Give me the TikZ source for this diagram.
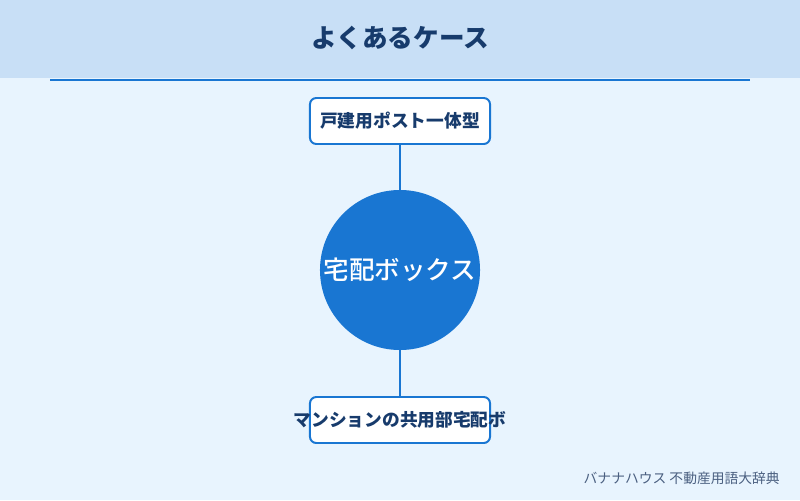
\documentclass[tikz,border=0pt]{standalone}
\usepackage{fontspec}
\setmainfont{Noto Sans CJK JP}
\newfontfamily\medfont{Noto Sans CJK JP Medium}
\usepackage{tikz}
\usetikzlibrary{positioning}

\definecolor{bandblue}{HTML}{C8DFF6}
\definecolor{paleblue}{HTML}{E8F4FE}
\definecolor{mainblue}{HTML}{1976D2}
\definecolor{navy}{HTML}{173B6C}
\definecolor{footgray}{HTML}{4A5F80}

\begin{document}
\begin{tikzpicture}[x=0.025cm, y=-0.025cm]
		\tikzset{casebox/.style={draw=mainblue, line width=1.4pt, fill=white, rounded corners=4.5pt,
				minimum width=4.5cm, minimum height=1.15cm, inner sep=0pt}};
		\tikzset{boxtext/.style={text=navy, font=\fontsize{12.6}{14}\selectfont\bfseries}};
		\tikzset{link/.style={draw=mainblue, line width=1.4pt}};

		% background and header
		\fill[paleblue] (0,0) rectangle (800,500);
		\useasboundingbox (0,0) rectangle (800,500);
		\fill[bandblue] (0,0) rectangle (800,78);
		\draw[mainblue, line width=1.4pt] (50,80) -- (750,80);
		\node[text=navy, font=\fontsize{18.2}{20}\selectfont\bfseries] (title) at (400,38) {よくあるケース};

		% center and cases
		\node[circle, fill=mainblue, minimum size=4cm, inner sep=0pt, text=white,
			font=\fontsize{18.2}{20}\selectfont\medfont] (hub) at (400,270) {宅配ボックス};
		\node[casebox, boxtext] (house) at (400,121) {戸建用ポスト一体型};
		\node[casebox] (flat) at (400,420) {};
		\node[boxtext] (flatlbl) at (400,420) {マンションの共用部宅配ボ};

		\draw[link] (house) -- (hub);
		\draw[link] (hub) -- (flat);

		% footer
		\node[anchor=east, text=footgray, font=\fontsize{9.8}{11}\selectfont, inner sep=0pt] (credit) at (780,478)
			{バナナハウス 不動産用語大辞典};
	\end{tikzpicture}
\end{document}
